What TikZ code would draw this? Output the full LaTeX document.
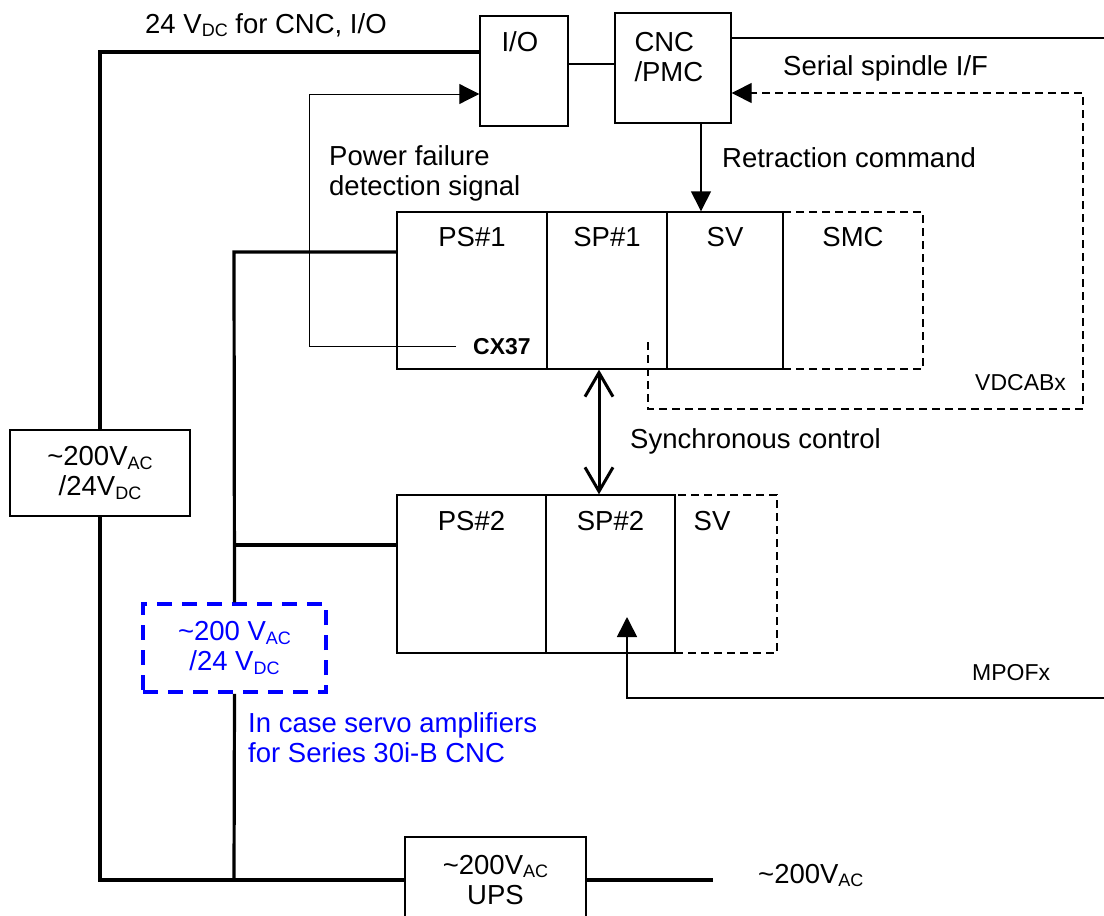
\documentclass[tikz,border=0pt]{standalone}
\usepackage{fontspec}
\setmainfont{Liberation Sans}
\usetikzlibrary{arrows.meta,calc,positioning}
\newcommand{\lowsub}[1]{\raisebox{-3.5pt}{\fontsize{18}{18}\selectfont #1}}
\tikzset{pin/.style={-{Triangle[length=20pt,width=20pt]}, line width=1.4pt},
  blk/.style={draw, line width=1.4pt, inner sep=0pt, align=center},
  dblk/.style={blk, dash pattern=on 8pt off 5pt},
  bus/.style={line width=3.2pt},
  wire/.style={line width=1.2pt},
  dwire/.style={line width=1.4pt, dash pattern=on 8pt off 5pt},
  txt/.style={inner sep=0pt, anchor=base west, align=left},
  head/.style={inner sep=0pt, anchor=base},
  small/.style={font=\fontsize{23}{26}\selectfont}}

\begin{document}
\begin{tikzpicture}[x=1pt, y=-1pt, font=\fontsize{27.5}{30}\selectfont]
  \useasboundingbox (0,0) rectangle (1104,916);
  \clip (0,0) rectangle (1104,916);
  % controller side
  \node[blk, minimum width=88, minimum height=110] (io) at (524,71) {};
  \node[txt] (iot) at ([xshift=22pt, yshift=-36pt]io.north west) {I/O};
  \node[blk, minimum width=116, minimum height=110] (cnc) at (673,68) {};
  \node[txt] (cnct) at ([xshift=20pt, yshift=-69pt]cnc.north west) {CNC\\/PMC};
  % amplifier rows
  \node[blk, minimum width=150, minimum height=157] (ps1) at (472,290.5) {};
  \node[blk, minimum width=120, minimum height=157] (sp1) at (607,290.5) {};
  \node[blk, minimum width=116, minimum height=157] (sv1) at (725,290.5) {};
  \node[dblk, minimum width=140, minimum height=157] (smc) at (853,290.5) {};
  \node[head] (ps1t) at ([yshift=-35pt]ps1.north) {PS\#1};
  \node[head] (sp1t) at ([yshift=-35pt]sp1.north) {SP\#1};
  \node[head] (sv1t) at ([yshift=-35pt]sv1.north) {SV};
  \node[head] (smct) at ([yshift=-35pt]smc.north) {SMC};
  \node[txt, small] (cx37) at (473,354) {\bfseries CX37};
  \node[blk, minimum width=149, minimum height=158] (ps2) at (471.5,574) {};
  \node[blk, minimum width=129, minimum height=158] (sp2) at (610.5,574) {};
  \node[dblk, minimum width=102, minimum height=158] (sv2) at (726,574) {};
  \node[head] (ps2t) at ([yshift=-36pt]ps2.north) {PS\#2};
  \node[head] (sp2t) at ([yshift=-36pt]sp2.north) {SP\#2};
  \node[head] (sv2t) at ([xshift=-14pt, yshift=-36pt]sv2.north) {SV};
  % power supplies
  \node[blk, minimum width=180, minimum height=86] (psu) at (100,473) {\textasciitilde200V\lowsub{AC}\\/24V\lowsub{DC}};
  \node[blk, blue, line width=3.5pt, dash pattern=on 15pt off 10pt, minimum width=183, minimum height=88] (bpsu) at (234.5,648) {\textasciitilde200 V\lowsub{AC}\\/24 V\lowsub{DC}};
  \node[blk, minimum width=181, minimum height=86] (ups) at (495.5,880) {\textasciitilde200V\lowsub{AC}\\UPS};

  % power lines
  \coordinate (tl) at (100,52);
  \coordinate (j1) at (234,252);
  \coordinate (j2) at (234,545);
  \coordinate (j3) at (234,880);
  \coordinate (acout) at (713,880);
  \draw[bus] (io.west |- tl) -- (tl) -- (psu.north);
  \draw[bus] (psu.south) |- (ups.west);
  \draw[bus] (ups.east) -- (acout);
  \draw[bus] (ps1.west |- j1) -- (j1) -- (bpsu.north);
  \draw[bus] (bpsu.south) -- (j3);
  \draw[bus] (j2) -- (ps2.west |- j2);

  % signals
  \coordinate (pf) at (309,94);
  \draw[pin, line width=1pt] ([xshift=-17pt]cx37.west) -| (pf) -- (io.west |- pf);
  \coordinate (link) at (0,64);
  \draw[wire] (io.east |- link) -- (cnc.west |- link);
  \coordinate (rt) at (1104,38);
  \draw[wire] (cnc.east |- rt) -- (rt);
  \coordinate (ss0) at (648,342);
  \coordinate (ss1) at (1083,409);
  \coordinate (ss2) at (1083,93);
  \draw[dwire, pin] (ss0) |- (ss1) -- (ss2) -- (cnc.east |- ss2);
  \coordinate (rc) at (701,0);
  \draw[pin] (cnc.south -| rc) -- (sv1.north -| rc);
  \coordinate (sy) at (599,0);
  \draw[line width=3pt, {Straight Barb[length=24pt,width=28pt]}-{Straight Barb[length=24pt,width=28pt]}] (sp1.south -| sy) -- (sp2.north -| sy);
  \coordinate (mp0) at (1104,698);
  \coordinate (mp1) at (627,617);
  \draw[pin, line width=1.6pt] (mp0) -| (mp1);

  % labels
  \node[txt] (dctxt) at (145,33) {24 V\lowsub{DC} for CNC, I/O};
  \node[txt] (pftxt) at (329,195) {Power failure\\detection signal};
  \node[txt] (sstxt) at (783,75) {Serial spindle I/F};
  \node[txt] (rctxt) at (722,167) {Retraction command};
  \node[txt] (sytxt) at (630,448) {Synchronous control};
  \node[txt, small] (vdtxt) at (975,390) {VDCABx};
  \node[txt, small] (mptxt) at (972,680) {MPOFx};
  \node[txt, blue] (note) at (248,762) {In case servo amplifiers\\for Series 30i-B CNC};
  \node[txt] (acin) at (758,883) {\textasciitilde200V\lowsub{AC}};
\end{tikzpicture}
\end{document}
